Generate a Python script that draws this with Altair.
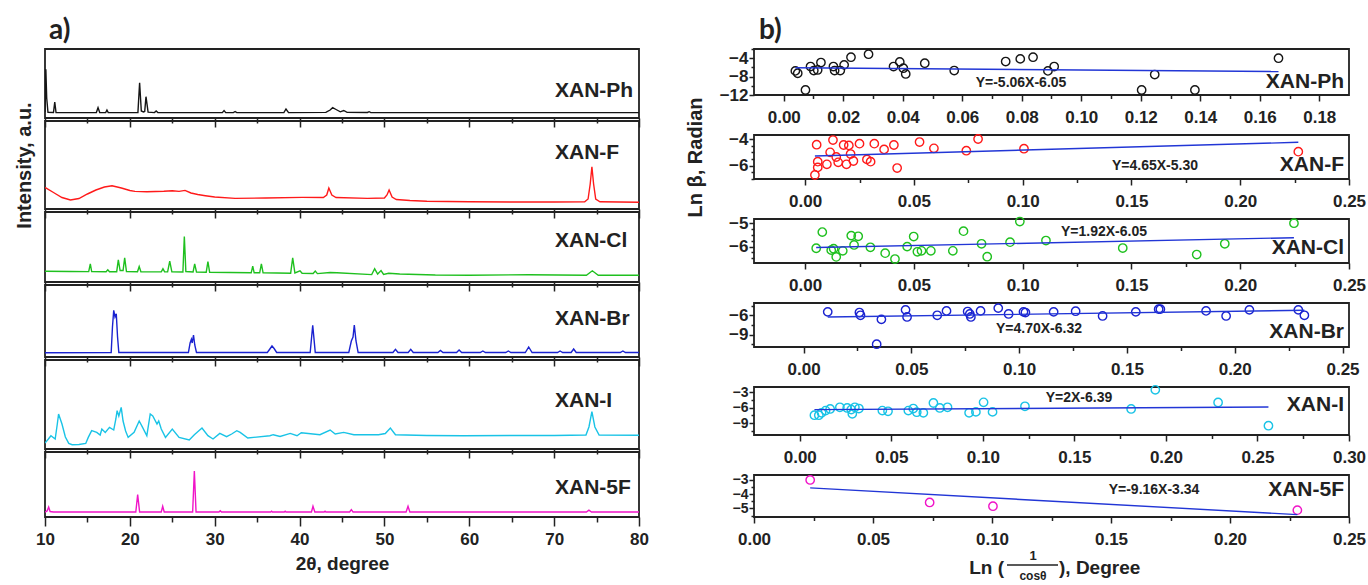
import altair as alt
import pandas as pd

FONT = "Liberation Sans"
INK = "#222222"

# ---------------- a) powder XRD patterns: (2θ, intensity a.u.) ----------------
XRD_PH = [(10.0, 6.0), (10.1, 48.7), (10.2, 20.0), (10.35, 5.6), (11.0, 5.5), (11.15, 16.0), (11.3, 5.5),
          (16.05, 5.4), (16.25, 10.3), (16.45, 5.4), (17.15, 5.4), (17.3, 8.0), (17.45, 5.4),
          (20.95, 5.4), (21.15, 35.3), (21.35, 7.0), (21.6, 6.0), (21.75, 6.5), (21.9, 21.3), (22.15, 5.8),
          (22.9, 5.4), (23.1, 7.0), (23.3, 5.4), (30.9, 5.4), (31.1, 7.5), (31.3, 5.4),
          (32.2, 5.4), (32.4, 6.5), (32.6, 5.4), (38.15, 5.4), (38.4, 9.0), (38.7, 5.4),
          (43.1, 5.6), (43.6, 8.0), (43.9, 10.3), (44.3, 8.5), (44.8, 6.2), (45.2, 7.5), (45.6, 5.6),
          (48.0, 5.5), (48.2, 6.3), (48.4, 5.4), (80.0, 5.4)]

XRD_F = [(10.0, 21.6), (11.0, 16.5), (12.0, 11.5), (13.0, 9.0), (14.0, 10.5), (15.0, 15.0), (16.0, 19.0),
         (17.0, 22.0), (17.9, 23.3), (19.0, 21.0), (20.0, 18.5), (20.6, 17.6), (22.0, 17.3), (24.0, 17.8),
         (25.0, 18.3), (25.8, 17.6), (26.5, 18.6), (27.2, 16.0), (28.0, 14.5), (28.9, 13.3), (30.0, 12.0),
         (32.4, 10.6), (36.0, 11.0), (40.3, 11.6), (42.8, 11.5), (43.2, 14.0), (43.45, 21.0), (43.8, 14.0),
         (44.3, 11.5), (48.0, 10.6), (50.0, 11.0), (50.3, 14.0), (50.55, 19.0), (50.9, 12.0), (51.4, 9.5),
         (53.0, 8.5), (55.0, 7.8), (60.0, 7.2), (65.0, 7.0), (70.0, 7.0), (73.6, 7.2), (74.0, 10.0),
         (74.25, 25.0), (74.45, 42.3), (74.65, 25.0), (74.9, 10.0), (75.4, 7.2), (80.0, 6.8)]

XRD_CL = [(10.0, 10.8), (13.0, 10.5), (15.15, 10.4), (15.34, 18.2), (15.5, 10.4), (17.2, 10.3), (17.4, 12.2),
          (17.6, 10.3), (18.45, 10.3), (18.64, 22.2), (18.85, 11.5), (19.2, 11.5), (19.39, 24.2), (19.6, 10.5),
          (20.9, 10.2), (21.1, 15.5), (21.3, 10.2), (23.7, 10.1), (23.9, 13.2), (24.1, 10.1), (24.45, 10.1),
          (24.7, 20.8), (24.95, 10.2), (26.25, 10.0), (26.42, 45.5), (26.6, 10.5), (27.45, 10.0), (27.64, 18.2),
          (27.85, 10.0), (29.0, 9.8), (29.2, 20.5), (29.4, 9.8), (34.3, 9.2), (34.48, 15.8), (34.65, 9.2),
          (35.3, 9.2), (35.5, 18.2), (35.7, 9.2), (38.95, 8.8), (39.19, 24.2), (39.45, 9.0), (40.05, 11.2),
          (40.3, 8.7), (41.6, 8.5), (41.85, 11.0), (42.1, 8.4), (43.6, 9.5), (44.4, 9.3), (48.5, 7.4),
          (48.85, 13.2), (49.2, 8.0), (49.6, 11.5), (49.9, 7.5), (50.5, 8.7), (51.8, 8.0), (56.0, 7.0),
          (60.0, 6.8), (67.0, 7.3), (73.8, 6.8), (74.5, 11.2), (75.2, 6.8), (80.0, 6.8)]

XRD_BR = [(10.0, 4.3), (17.8, 4.5), (17.95, 30.0), (18.1, 46.7), (18.25, 40.0), (18.4, 43.3), (18.55, 20.0),
          (18.7, 4.5), (26.9, 4.5), (27.1, 14.0), (27.25, 17.7), (27.35, 14.0), (27.5, 22.0), (27.65, 12.0),
          (27.85, 4.5), (36.2, 4.5), (36.5, 8.0), (36.75, 11.0), (37.0, 8.5), (37.3, 4.5), (41.25, 4.5),
          (41.55, 31.7), (41.85, 4.5), (45.8, 4.5), (46.1, 16.0), (46.3, 20.0), (46.45, 32.0), (46.65, 16.0),
          (46.9, 4.5), (51.0, 4.5), (51.3, 7.7), (51.6, 4.5), (52.8, 4.5), (53.1, 7.7), (53.4, 4.5),
          (56.3, 4.5), (56.6, 6.5), (56.9, 4.5), (58.5, 4.5), (58.8, 7.0), (59.1, 4.5), (61.3, 4.5),
          (61.6, 6.0), (61.9, 4.5), (64.3, 4.5), (64.6, 6.0), (64.9, 4.5), (66.6, 4.5), (67.0, 10.0),
          (67.4, 4.5), (70.4, 4.5), (70.7, 6.0), (71.0, 4.5), (72.0, 4.5), (72.3, 8.0), (72.6, 4.5),
          (77.8, 4.5), (78.1, 6.0), (78.4, 4.5), (80.0, 4.5)]

XRD_I = [(10.0, 6.0), (10.4, 10.0), (10.7, 13.3), (11.2, 10.0), (11.45, 25.0), (11.6, 35.0), (11.8, 30.0),
         (12.0, 25.0), (12.4, 12.0), (12.8, 5.6), (13.2, 4.3), (14.0, 4.5), (14.8, 5.6), (15.1, 11.6),
         (15.5, 18.3), (16.1, 16.6), (16.5, 14.0), (16.7, 20.0), (17.1, 16.6), (17.6, 21.6), (18.1, 19.0),
         (18.35, 30.0), (18.5, 38.3), (18.7, 33.0), (18.98, 41.6), (19.2, 28.0), (19.5, 18.0), (19.8, 11.6),
         (20.5, 16.6), (21.1, 28.0), (21.5, 21.6), (22.0, 13.3), (22.4, 35.0), (22.7, 33.0), (23.2, 25.0),
         (23.4, 28.0), (23.7, 20.0), (24.2, 11.6), (25.0, 20.0), (25.8, 11.6), (27.0, 9.0), (27.6, 14.3),
         (28.5, 21.0), (29.2, 13.3), (29.8, 10.0), (30.6, 15.6), (31.4, 12.3), (32.0, 15.0), (32.6, 18.3),
         (33.0, 16.6), (33.9, 11.0), (36.5, 13.3), (36.9, 14.3), (37.7, 12.6), (38.9, 15.6), (39.7, 13.3),
         (40.2, 16.3), (42.4, 14.3), (43.6, 19.0), (44.2, 15.0), (45.2, 16.6), (46.4, 14.3), (49.3, 14.3),
         (50.1, 15.5), (50.7, 21.0), (51.3, 14.3), (55.0, 13.5), (59.3, 13.3), (65.0, 13.5), (70.0, 13.5),
         (73.75, 14.0), (74.1, 22.0), (74.45, 37.3), (74.8, 22.0), (75.3, 14.0), (80.0, 13.8)]

XRD_5F = [(10.0, 5.0), (10.25, 6.0), (10.43, 10.0), (10.6, 5.5), (11.0, 5.0), (20.7, 5.0), (20.92, 22.3),
          (21.15, 5.0), (23.7, 5.0), (23.87, 10.7), (24.05, 5.0), (27.4, 5.0), (27.6, 46.0), (27.8, 5.0),
          (30.5, 5.0), (30.65, 6.3), (30.8, 5.0), (36.6, 5.0), (36.7, 5.8), (36.8, 5.0), (38.2, 5.0),
          (38.3, 5.8), (38.4, 5.0), (41.4, 5.0), (41.58, 10.7), (41.8, 5.0), (42.9, 5.0), (43.0, 5.8),
          (43.1, 5.0), (45.9, 5.0), (46.1, 7.3), (46.3, 5.0), (52.55, 5.0), (52.78, 10.7), (53.0, 5.0),
          (73.8, 5.0), (74.1, 6.8), (74.4, 5.0), (80.0, 5.0)]

# ---------------- b) ln(1/cosθ) vs ln β ----------------
WH_PH_X = [0.0039, 0.0047, 0.0073, 0.0090, 0.0101, 0.0114, 0.0125, 0.0167, 0.0171, 0.0190, 0.0203, 0.0226,
           0.0285, 0.0369, 0.0390, 0.0402, 0.0410, 0.0474, 0.0573, 0.0746, 0.0795, 0.0838, 0.0888, 0.0909,
           0.1203, 0.1247, 0.1382, 0.1663]
WH_PH_Y = [-6.76, -7.27, -10.9, -5.82, -6.69, -6.55, -4.95, -5.82, -6.69, -6.69, -5.45, -3.78,
           -3.13, -5.82, -4.80, -6.18, -7.42, -5.09, -6.69, -4.73, -4.15, -3.78, -6.76, -5.82,
           -10.9, -7.56, -10.9, -4.00]

WH_F_X = [0.0053, 0.0058, 0.0058, 0.0045, 0.0100, 0.0115, 0.0128, 0.0143, 0.0152, 0.0177, 0.0190, 0.0201,
          0.0209, 0.0222, 0.0250, 0.0284, 0.0301, 0.0318, 0.0363, 0.0408, 0.0423, 0.0526, 0.0592, 0.0741,
          0.0795, 0.1006, 0.2267]
WH_F_Y = [-4.43, -5.70, -6.13, -6.70, -5.90, -5.00, -4.08, -5.35, -5.75, -4.45, -5.90, -4.48,
          -5.13, -5.65, -4.35, -5.53, -5.70, -4.35, -4.78, -4.45, -6.18, -4.23, -4.70, -4.88,
          -4.00, -4.73, -4.95]

WH_CL_X = [0.0051, 0.0079, 0.0120, 0.0131, 0.0143, 0.0173, 0.0212, 0.0225, 0.0244, 0.0300, 0.0368, 0.0413,
           0.0469, 0.0499, 0.0516, 0.0535, 0.0578, 0.0679, 0.0728, 0.0811, 0.0837, 0.0942, 0.0987, 0.1107,
           0.1460, 0.1800, 0.1929, 0.2247]
WH_CL_Y = [-6.07, -5.38, -6.15, -6.09, -6.44, -6.18, -5.53, -5.93, -5.56, -6.03, -6.28, -6.53,
           -6.00, -5.57, -6.22, -6.18, -6.18, -6.18, -5.34, -5.88, -6.43, -5.81, -4.93, -5.74,
           -6.06, -6.34, -5.88, -5.00]

WH_BR_X = [0.0112, 0.0259, 0.0264, 0.0361, 0.0339, 0.0473, 0.0480, 0.0620, 0.0663, 0.0761, 0.0771, 0.0776,
           0.0821, 0.0903, 0.0951, 0.1020, 0.1029, 0.1160, 0.1262, 0.1387, 0.1541, 0.1647, 0.1655, 0.1867,
           0.1960, 0.2068, 0.2295, 0.2323]
WH_BR_Y = [-5.47, -5.58, -6.00, -6.63, -10.47, -5.16, -6.26, -6.00, -5.32, -5.42, -5.79, -6.26,
           -5.32, -4.89, -5.79, -5.47, -5.58, -5.47, -5.37, -6.10, -5.47, -5.05, -5.05, -5.32,
           -6.10, -5.16, -5.16, -6.00]

WH_I_X = [0.0080, 0.0104, 0.0119, 0.0141, 0.0166, 0.0219, 0.0259, 0.0281, 0.0287, 0.0301, 0.0323, 0.0451,
          0.0482, 0.0593, 0.0620, 0.0639, 0.0675, 0.0730, 0.0765, 0.0807, 0.0925, 0.0962, 0.1004, 0.1053,
          0.1230, 0.1810, 0.1942, 0.2285, 0.2560]
WH_I_Y = [-7.46, -7.46, -7.00, -6.57, -6.25, -5.93, -6.06, -6.38, -7.20, -5.93, -6.18, -6.57,
          -6.70, -6.57, -6.18, -6.89, -7.00, -5.10, -6.06, -5.93, -7.00, -6.82, -4.97, -6.82,
          -5.74, -6.25, -2.55, -5.00, -9.50]

WH_5F_X = [0.0236, 0.0738, 0.1004, 0.2283]
WH_5F_Y = [-3.00, -4.58, -4.84, -5.12]

FIT_SLOPE = [-5.06, 4.65, 1.92, 4.70, 2.0, -9.16]
FIT_INTERCEPT = [-6.05, -5.30, -6.05, -6.32, -6.39, -3.34]
FIT_TEXT = ["Y=-5.06X-6.05", "Y=4.65X-5.30", "Y=1.92X-6.05", "Y=4.70X-6.32", "Y=2X-6.39", "Y=-9.16X-3.34"]

SAMPLES = ["XAN-Ph", "XAN-F", "XAN-Cl", "XAN-Br", "XAN-I", "XAN-5F"]
COLORS = ["#151515", "#ff1a1a", "#1fc01f", "#1a22d0", "#19c3e6", "#f014c8"]
FIT_COLOR = "#2236d6"

XRD = [XRD_PH, XRD_F, XRD_CL, XRD_BR, XRD_I, XRD_5F]
WH_X = [WH_PH_X, WH_F_X, WH_CL_X, WH_BR_X, WH_I_X, WH_5F_X]
WH_Y = [WH_PH_Y, WH_F_Y, WH_CL_Y, WH_BR_Y, WH_I_Y, WH_5F_Y]

# axis ranges and ticks of the right-hand panels
X_DOMAINS = [[-0.01, 0.19], [-0.0235, 0.25], [-0.0235, 0.25], [-0.023, 0.253], [-0.025, 0.30], [0.0, 0.25]]
X_STEPS = [(0.01, 19), (0.025, 11), (0.025, 11), (0.025, 11), (0.025, 13), (0.025, 11)]
Y_DOMAINS = [[-12, -2], [-7, -3.7], [-6.7, -4.82], [-10.9, -4.1], [-11.3, -2.0], [-5.6, -2.65]]
Y_TICKS = [[-12, -10, -8, -6, -4, -2], [-7, -6.5, -6, -5.5, -5, -4.5, -4], [-6.5, -6.25, -6, -5.75, -5.5, -5.25, -5],
           [-10.5, -9, -7.5, -6, -4.5], [-10.5, -9, -7.5, -6, -4.5, -3], [-5.5, -5, -4.5, -4, -3.5, -3]]
Y_LABELED = [[-12, -8, -4], [-6, -4], [-6, -5], [-9, -6], [-9, -6, -3], [-5, -4, -3]]
Y_LABEL_SIZE = [17, 17, 17, 17, 14, 14]

# panel geometry
LEFT_W, RIGHT_W = 594, 595
LEFT_H = [69, 88, 70, 72, 89, 65]
RIGHT_H = [46, 44, 44, 44, 48, 42]
LEFT_LABEL_Y = [42, 32, 29, 34, 41, 36]
RIGHT_LABEL_Y = [33, 30, 29, 29, 18, 15]
EQ_POS = [(267, 34), (401, 31), (350, 13), (285, 26), (325, 11), (400, 15)]

TT_TICKS = list(range(10, 81, 5))


def text_layer(text, x, y, size, align="left", weight="bold", font=FONT, color=INK, baseline="middle"):
    return alt.Chart(pd.DataFrame({"t": [text]})).mark_text(
        align=align, baseline=baseline, font=font, fontSize=size, fontWeight=weight, color=color
    ).encode(x=alt.value(x), y=alt.value(y), text="t:N")


def is_one_of(vals):
    """Vega expression: true when the tick value is one of vals."""
    return "(" + " || ".join(f"abs(datum.value - ({v!r})) < 1e-6" for v in vals) + ")"


def xrd_panel(i):
    bottom = i == len(SAMPLES) - 1
    df = pd.DataFrame(XRD[i], columns=["two_theta", "intensity"])
    x_axis = alt.Axis(
        values=TT_TICKS,
        tickSize={"condition": {"test": "datum.value % 10 === 0", "value": 9}, "value": 5},
        tickWidth=1.5, tickColor=INK, domain=False, grid=False,
        labels=bottom, labelExpr="datum.value % 10 === 0 ? datum.label : ''",
        labelFlush=False, labelOverlap=False, labelPadding=5,
        labelFontSize=17, labelFont=FONT, labelFontWeight="bold", labelColor=INK,
        title="2θ, degree" if bottom else None, titleFontSize=19, titlePadding=7,
        titleFont=FONT, titleFontWeight="bold", titleColor=INK,
    )
    y_enc_axis = None
    if i == 1:
        y_enc_axis = alt.Axis(labels=False, ticks=False, domain=False, grid=False,
                              title="Intensity, a.u.", titleFontSize=20, titleFont=FONT,
                              titleFontWeight="bold", titleColor=INK, titlePadding=11)
    line = alt.Chart(df).mark_line(color=COLORS[i], strokeWidth=1.4, clip=True).encode(
        x=alt.X("two_theta:Q", scale=alt.Scale(domain=[10, 80], nice=False, zero=False), axis=x_axis),
        y=alt.Y("intensity:Q", scale=alt.Scale(domain=[0, LEFT_H[i]], nice=False, zero=False), axis=y_enc_axis),
        order=alt.Order("two_theta:Q"),
    )
    layers = [line, text_layer(SAMPLES[i], 510, LEFT_LABEL_Y[i], 21)]
    if i == 0:
        layers.append(text_layer("a)", 4, -18, 28, font="Lato"))
    return alt.layer(*layers).properties(width=LEFT_W, height=LEFT_H[i])


def wh_panel(i):
    step, n = X_STEPS[i]
    xticks = [round(k * step, 3) for k in range(n)]
    xlabeled = xticks[::2]
    pts = pd.DataFrame({"x": WH_X[i], "y": WH_Y[i]})
    x0, x1 = min(WH_X[i]), max(WH_X[i])
    fit = pd.DataFrame({"x": [x0, x1],
                        "y": [FIT_SLOPE[i] * x0 + FIT_INTERCEPT[i], FIT_SLOPE[i] * x1 + FIT_INTERCEPT[i]]})

    x_test = is_one_of(xlabeled)
    y_test = is_one_of(Y_LABELED[i])
    x_axis = alt.Axis(
        values=xticks, format=".2f",
        tickSize={"condition": {"test": x_test, "value": 6}, "value": 3.5},
        tickWidth=1.5, tickColor=INK, domain=False, grid=False,
        labelExpr=f"{x_test} ? datum.label : ''", labelFlush=False, labelOverlap=False,
        labelPadding=8, labelFontSize=17, labelFont=FONT, labelFontWeight="bold", labelColor=INK,
        title=None,
    )
    y_axis = alt.Axis(
        values=Y_TICKS[i], format=".0f",
        tickSize={"condition": {"test": y_test, "value": 5}, "value": 3},
        tickWidth=1.5, tickColor=INK, domain=False, grid=False,
        labelExpr=f"{y_test} ? datum.label : ''", labelFlush=False, labelOverlap=False,
        labelPadding=1, labelFontSize=Y_LABEL_SIZE[i], labelFont=FONT, labelFontWeight="bold",
        labelColor=INK, labelBaseline="middle",
        title="Ln β, Radian" if i == 1 else None, titleFontSize=20, titleFont=FONT,
        titleFontWeight="bold", titleColor=INK, titlePadding=23,
    )
    xs = alt.Scale(domain=X_DOMAINS[i], nice=False, zero=False)
    ys = alt.Scale(domain=Y_DOMAINS[i], nice=False, zero=False)

    dots = alt.Chart(pts).mark_point(shape="circle", filled=False, size=70, strokeWidth=1.4,
                                     color=COLORS[i], opacity=1).encode(
        x=alt.X("x:Q", scale=xs, axis=x_axis),
        y=alt.Y("y:Q", scale=ys, axis=y_axis),
    )
    line = alt.Chart(fit).mark_line(color=FIT_COLOR, strokeWidth=1.4).encode(
        x=alt.X("x:Q", scale=xs, axis=x_axis), y=alt.Y("y:Q", scale=ys, axis=y_axis))

    layers = [dots, line,
              text_layer(SAMPLES[i], 590, RIGHT_LABEL_Y[i], 21, align="right"),
              text_layer(FIT_TEXT[i], EQ_POS[i][0], EQ_POS[i][1], 14, align="center")]
    if i == 0:
        layers.append(text_layer("b)", 5, -18, 28, font="Lato"))
    if i == len(SAMPLES) - 1:
        # x title: Ln (1 / cosθ), Degree written with a stacked fraction
        layers += [
            text_layer("Ln (", 250, 93, 19, align="right"),
            text_layer("1", 279, 81, 13, align="center"),
            text_layer("cosθ", 279, 101, 12, align="center"),
            text_layer("), Degree", 305, 93, 19, align="left"),
            alt.Chart(pd.DataFrame({"k": [0]})).mark_rule(color=INK, strokeWidth=1.3).encode(
                x=alt.value(253), x2=alt.value(304), y=alt.value(90)),
        ]
    return alt.layer(*layers).properties(width=RIGHT_W, height=RIGHT_H[i])


left = alt.vconcat(*[xrd_panel(i) for i in range(6)], spacing=3, bounds="flush")
right = alt.vconcat(*[wh_panel(i) for i in range(6)], spacing=40, bounds="flush")

chart = alt.hconcat(left, right, spacing=34).properties(
    padding={"left": 13, "top": 16, "right": 0, "bottom": 0},
    background="white",
).configure_view(
    stroke=INK, strokeWidth=1.8
).configure_axis(
    labelOverlap=False
)

chart.save("out.html", embed_options={"renderer": "svg", "actions": False})
